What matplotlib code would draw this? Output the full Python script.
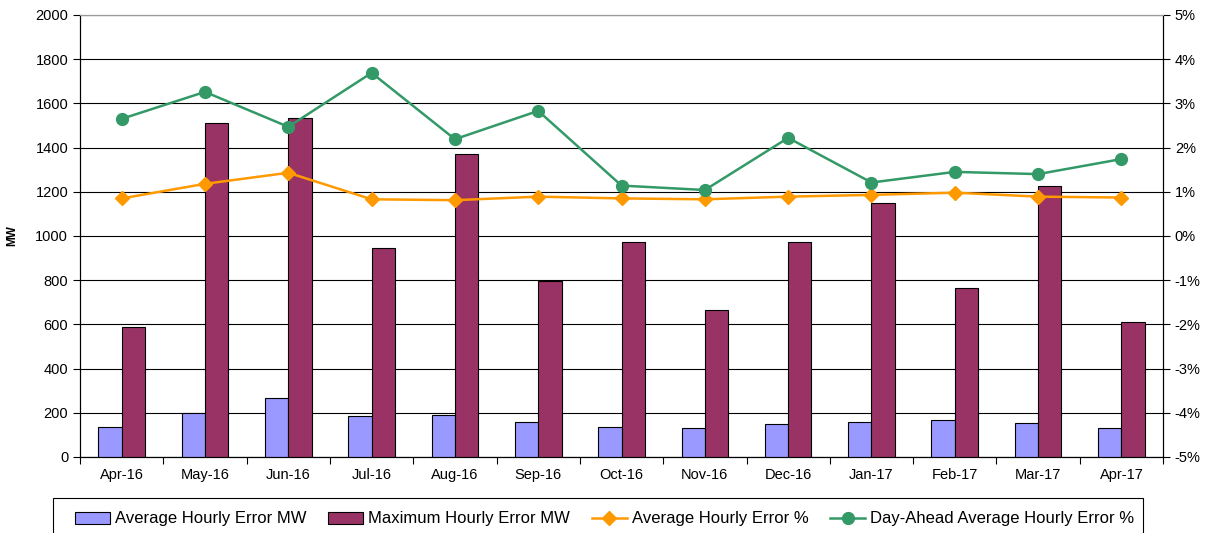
import numpy as np
import matplotlib
matplotlib.use("Agg")
import matplotlib.pyplot as plt
from matplotlib.patches import Rectangle
from matplotlib.ticker import FuncFormatter, MultipleLocator

plt.rcParams['font.family'] = ['Liberation Sans', 'DejaVu Sans']

months = ['Apr-16', 'May-16', 'Jun-16', 'Jul-16', 'Aug-16', 'Sep-16', 'Oct-16',
          'Nov-16', 'Dec-16', 'Jan-17', 'Feb-17', 'Mar-17', 'Apr-17']
avg_err_mw = [137, 200, 268, 187, 188, 160, 137, 130, 150, 160, 167, 155, 130]
max_err_mw = [590, 1510, 1535, 945, 1370, 795, 975, 665, 975, 1148, 765, 1228, 610]
avg_err_pct = [0.85, 1.18, 1.43, 0.83, 0.81, 0.89, 0.85, 0.83, 0.89, 0.93, 0.98, 0.89, 0.87]
da_avg_err_pct = [2.65, 3.26, 2.47, 3.69, 2.19, 2.83, 1.14, 1.04, 2.22, 1.21, 1.45, 1.40, 1.74]

fig = plt.figure(figsize=(12.05, 5.33), dpi=100)
ax = fig.add_axes([0.0664, 0.1426, 0.8988, 0.8293])
ax2 = ax.twinx()

x = np.arange(len(months))
w = 0.28
b1 = ax.bar(x - w / 2, avg_err_mw, w, color='#9999FF', edgecolor='black', linewidth=0.8,
            label='Average Hourly Error MW', zorder=3)
b2 = ax.bar(x + w / 2, max_err_mw, w, color='#993366', edgecolor='black', linewidth=0.8,
            label='Maximum Hourly Error MW', zorder=3)

l1, = ax2.plot(x, avg_err_pct, color='#FF9900', lw=1.8, marker='D', ms=7,
               label='Average Hourly Error %')
l2, = ax2.plot(x, da_avg_err_pct, color='#339966', lw=1.8, marker='o', ms=8.5,
               label='Day-Ahead Average Hourly Error %')

ax.set_xlim(-0.5, len(months) - 0.5)
ax.set_ylim(0, 2000)
ax.yaxis.set_major_locator(MultipleLocator(200))
ax2.set_ylim(-5, 5)
ax2.yaxis.set_major_locator(MultipleLocator(1))
ax2.yaxis.set_major_formatter(FuncFormatter(lambda v, p: f'{v:.0f}%'))

ax.grid(axis='y', color='black', lw=0.8, zorder=0)
ax.set_axisbelow(True)

ax.set_xticks(x)
ax.set_xticklabels(months)
ax.set_xticks(np.arange(-0.5, len(months)), minor=True)
ax.tick_params(axis='x', which='major', length=0, pad=8, labelsize=10.5)
ax.tick_params(axis='x', which='minor', length=5, direction='out', width=0.8)
ax.tick_params(axis='y', length=5, direction='out', labelsize=10.5, width=0.8)
ax2.tick_params(axis='y', length=5, direction='out', labelsize=10.5, width=0.8)

for a in (ax, ax2):
    a.spines['top'].set_color('#999999')
    a.spines['left'].set_color('black')
    a.spines['right'].set_color('black')
    a.spines['bottom'].set_color('black')

ax.set_ylabel('MW', fontsize=8.5, fontweight='bold', labelpad=12)

# legend box drawn by hand, runs off the bottom like the original
fig.add_artist(Rectangle((53 / 1205, -0.02), (1143 - 53) / 1205, 0.02 + 35 / 533,
                         transform=fig.transFigure, fill=False, ec='black', lw=0.8))
leg = fig.legend([b1, b2, l1, l2],
                 ['Average Hourly Error MW', 'Maximum Hourly Error MW',
                  'Average Hourly Error %', 'Day-Ahead Average Hourly Error %'],
                 loc='center left', bbox_to_anchor=(75 / 1205, 1 - 519 / 533), ncol=4,
                 fontsize=12, frameon=False, handlelength=2.1,
                 columnspacing=1.3, handletextpad=0.3, borderpad=0, borderaxespad=0)

fig.savefig('out.png', dpi=100)
